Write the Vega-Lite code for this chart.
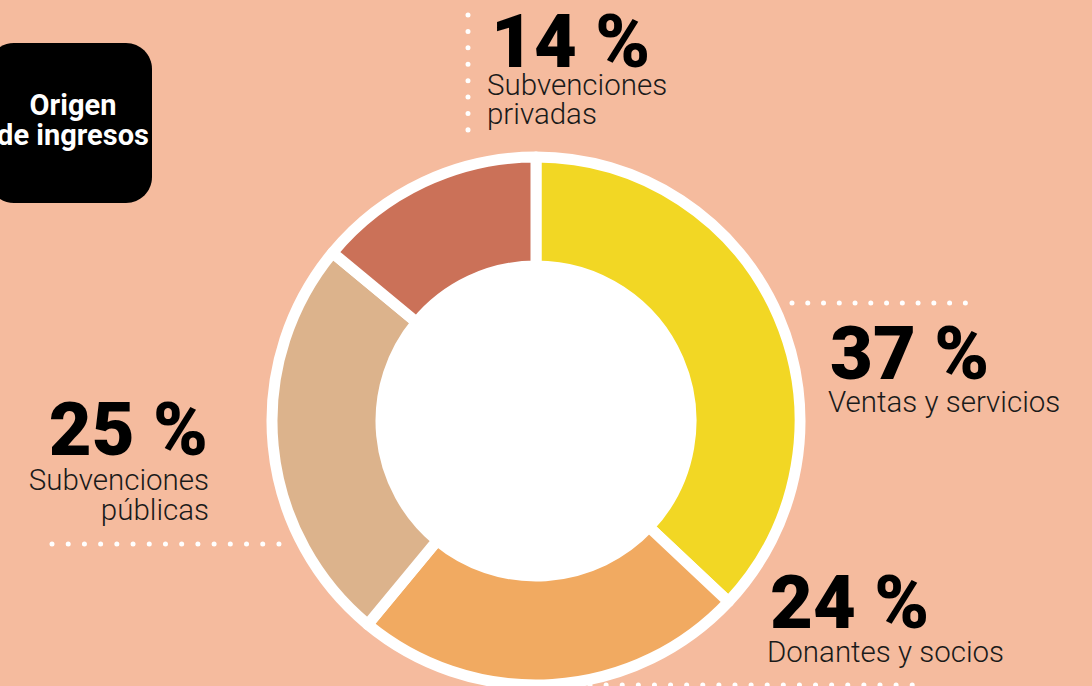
{
  "$schema": "https://vega.github.io/schema/vega-lite/v6.json",
  "width": 1072,
  "height": 530,
  "autosize": {"type": "none"},
  "padding": {"left": 0, "top": 156, "right": 20, "bottom": 0},
  "background": "#F5BB9E",
  "config": {"view": {"stroke": null}, "font": "Roboto"},
  "datasets": {
    "ingresos": [
      {"category": "Ventas y servicios", "value": 37, "idx": 1, "pct": "37 %", "name": "Ventas y servicios"},
      {"category": "Donantes y socios", "value": 24, "idx": 2, "pct": "24 %", "name": "Donantes y socios"},
      {"category": "Subvenciones públicas", "value": 25, "idx": 3, "pct": "25 %", "name": "Subvenciones\npúblicas"},
      {"category": "Subvenciones privadas", "value": 14, "idx": 4, "pct": "14 %", "name": "Subvenciones\nprivadas"}
    ]
  },
  "data": {"name": "ingresos"},
  "layer": [
    {
      "data": {"values": [{}]},
      "mark": {"type": "rect", "fill": "#000000", "cornerRadius": 26},
      "encoding": {"x": {"value": -12}, "x2": {"value": 152}, "y": {"value": -113}, "y2": {"value": 47}}
    },
    {
      "data": {"values": [{}]},
      "mark": {"type": "text", "text": "Origen\nde ingresos", "lineBreak": "\n", "lineHeight": 30, "align": "center", "baseline": "alphabetic", "fontSize": 29, "fontWeight": "bold", "letterSpacing": -0.5, "color": "#ffffff", "dx": -463, "dy": -306},
      "encoding": {}
    },
    {
      "data": {"values": [{}]},
      "mark": {"type": "rule", "color": "#ffffff", "strokeWidth": 5, "strokeCap": "round", "strokeDash": [0.01, 16.4]},
      "encoding": {"x": {"value": 468}, "y": {"value": -141}, "y2": {"value": -10}}
    },
    {
      "data": {"values": [{}]},
      "mark": {"type": "rule", "color": "#ffffff", "strokeWidth": 5, "strokeCap": "round", "strokeDash": [0.01, 15.75]},
      "encoding": {"y": {"value": 147}, "x": {"value": 792}, "x2": {"value": 981}}
    },
    {
      "data": {"values": [{}]},
      "mark": {"type": "rule", "color": "#ffffff", "strokeWidth": 5, "strokeCap": "round", "strokeDash": [0.01, 16.2]},
      "encoding": {"y": {"value": 388}, "x": {"value": 52}, "x2": {"value": 279}}
    },
    {
      "data": {"values": [{}]},
      "mark": {"type": "rule", "color": "#ffffff", "strokeWidth": 5, "strokeCap": "round", "strokeDash": [0.01, 16.1]},
      "encoding": {"y": {"value": 529}, "x": {"value": 590}, "x2": {"value": 928}}
    },
    {
      "mark": {"type": "arc", "outerRadius": 161, "innerRadius": 0, "fill": "#ffffff", "stroke": "#ffffff", "strokeWidth": 2},
      "encoding": {
        "theta": {"field": "value", "type": "quantitative", "stack": true},
        "order": {"field": "idx", "type": "quantitative"}
      }
    },
    {
      "mark": {"type": "arc", "outerRadius": 264, "innerRadius": 155, "stroke": "#ffffff", "strokeWidth": 11, "strokeJoin": "round"},
      "encoding": {
        "theta": {"field": "value", "type": "quantitative", "stack": true},
        "order": {"field": "idx", "type": "quantitative"},
        "color": {
          "field": "category",
          "type": "nominal",
          "scale": {
            "domain": ["Ventas y servicios", "Donantes y socios", "Subvenciones públicas", "Subvenciones privadas"],
            "range": ["#F2D724", "#F1AA61", "#DCB38C", "#CB7158"]
          },
          "legend": null
        }
      }
    },
    {
      "transform": [{"filter": {"field": "category", "equal": "Subvenciones privadas"}}],
      "mark": {"type": "text", "align": "left", "baseline": "alphabetic", "fontSize": 74, "fontWeight": 900, "color": "#000000", "dx": -45, "dy": -354},
      "encoding": {"text": {"field": "pct"}}
    },
    {
      "transform": [{"filter": {"field": "category", "equal": "Subvenciones privadas"}}],
      "mark": {"type": "text", "align": "left", "baseline": "alphabetic", "fontSize": 29.5, "fontWeight": 300, "color": "#1a1a1a", "lineBreak": "\n", "lineHeight": 29, "dx": -49, "dy": -326},
      "encoding": {"text": {"field": "name"}}
    },
    {
      "transform": [{"filter": {"field": "category", "equal": "Ventas y servicios"}}],
      "mark": {"type": "text", "align": "left", "baseline": "alphabetic", "fontSize": 74, "fontWeight": 900, "color": "#000000", "dx": 294, "dy": -42},
      "encoding": {"text": {"field": "pct"}}
    },
    {
      "transform": [{"filter": {"field": "category", "equal": "Ventas y servicios"}}],
      "mark": {"type": "text", "align": "left", "baseline": "alphabetic", "fontSize": 29.5, "fontWeight": 300, "color": "#1a1a1a", "lineBreak": "\n", "lineHeight": 29, "dx": 292, "dy": -9},
      "encoding": {"text": {"field": "name"}}
    },
    {
      "transform": [{"filter": {"field": "category", "equal": "Donantes y socios"}}],
      "mark": {"type": "text", "align": "left", "baseline": "alphabetic", "fontSize": 74, "fontWeight": 900, "color": "#000000", "dx": 234, "dy": 207},
      "encoding": {"text": {"field": "pct"}}
    },
    {
      "transform": [{"filter": {"field": "category", "equal": "Donantes y socios"}}],
      "mark": {"type": "text", "align": "left", "baseline": "alphabetic", "fontSize": 29.5, "fontWeight": 300, "color": "#1a1a1a", "lineBreak": "\n", "lineHeight": 29, "dx": 231, "dy": 241},
      "encoding": {"text": {"field": "name"}}
    },
    {
      "transform": [{"filter": {"field": "category", "equal": "Subvenciones públicas"}}],
      "mark": {"type": "text", "align": "right", "baseline": "alphabetic", "fontSize": 74, "fontWeight": 900, "color": "#000000", "dx": -328, "dy": 34},
      "encoding": {"text": {"field": "pct"}}
    },
    {
      "transform": [{"filter": {"field": "category", "equal": "Subvenciones públicas"}}],
      "mark": {"type": "text", "align": "right", "baseline": "alphabetic", "fontSize": 29.5, "fontWeight": 300, "color": "#1a1a1a", "lineBreak": "\n", "lineHeight": 30, "dx": -327, "dy": 69},
      "encoding": {"text": {"field": "name"}}
    }
  ]
}
